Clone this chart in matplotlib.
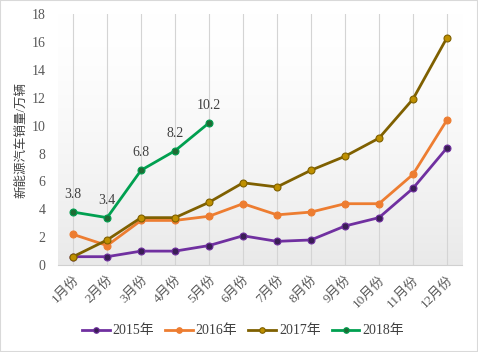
import numpy as np
import matplotlib.pyplot as plt

months = ["1月份", "2月份", "3月份", "4月份", "5月份", "6月份",
          "7月份", "8月份", "9月份", "10月份", "11月份", "12月份"]
s2015 = [0.6, 0.6, 1.0, 1.0, 1.4, 2.1, 1.7, 1.8, 2.8, 3.4, 5.5, 8.4]
s2016 = [2.2, 1.4, 3.2, 3.2, 3.5, 4.4, 3.6, 3.8, 4.4, 4.4, 6.5, 10.4]
s2017 = [0.6, 1.8, 3.4, 3.4, 4.5, 5.9, 5.6, 6.8, 7.8, 9.1, 11.9, 16.3]
s2018 = [3.8, 3.4, 6.8, 8.2, 10.2]
names = ["2015年", "2016年", "2017年", "2018年"]

FONT = ["Liberation Serif", "Noto Sans CJK SC", "DejaVu Sans"]
plt.rcParams["font.family"] = FONT

fig = plt.figure(figsize=(4.78, 3.52), dpi=100)
ax = fig.add_axes([0.121, 0.247, 0.846, 0.713])

# 背景渐变：上白下浅灰
t = np.linspace(0, 1, 256)
shade = 1.0 - 0.085 * t ** 1.5
img = np.repeat(shade[:, None, None], 3, axis=2)
ax.imshow(img, extent=[-0.45, 11.45, 0, 18], aspect="auto", zorder=0,
          origin="upper")

x = np.arange(len(months))
for xi in x:
    ax.axvline(xi, color="#d4d4d4", lw=0.8, zorder=1)

styles = [
    (s2015, "#7030a0", "#3a1e55"),
    (s2016, "#ed7d31", "#ed7d31"),
    (s2017, "#7f6000", "#bf9000"),
    (s2018, "#00a050", "#1e6b34"),
]
for (vals, lc, mc), nm in zip(styles, names):
    ax.plot(x[:len(vals)], vals, color=lc, lw=2, marker="o", ms=5,
            mfc=mc, mec=lc, mew=0.8, label=nm, zorder=3)

for xi, v in zip(x, s2018):
    ax.annotate(f"{v}", (xi, v), xytext=(0, 8), textcoords="offset points",
                ha="center", va="bottom", fontsize=10, color="#404040")

ax.set_xlim(-0.45, 11.45)
ax.set_ylim(0, 18)
ax.set_yticks(range(0, 19, 2))
ax.set_xticks(x)
ax.set_xticklabels(months, rotation=45, ha="right", rotation_mode="anchor",
                   fontsize=9.5, color="#595959")
ax.tick_params(axis="y", length=0, labelsize=10, labelcolor="#595959", pad=9)
ax.tick_params(axis="x", length=0, pad=6)
for sp in ["top", "right", "left"]:
    ax.spines[sp].set_visible(False)
ax.spines["bottom"].set_color("#d0d0d0")
ax.set_ylabel("新能源汽车销量/万辆", fontsize=9, color="#404040", labelpad=3)

fig.legend(loc="center", bbox_to_anchor=(0.508, 0.06), ncol=4, frameon=False,
           fontsize=10, handlelength=2.0, columnspacing=0.8, handletextpad=0.2,
           markerscale=0.8, labelcolor="#404040")

fig.patches.append(plt.Rectangle((0, 0), 1, 1, transform=fig.transFigure,
                                 fill=False, edgecolor="#d9d9d9", lw=1.5))
fig.savefig("out.png", dpi=100)
